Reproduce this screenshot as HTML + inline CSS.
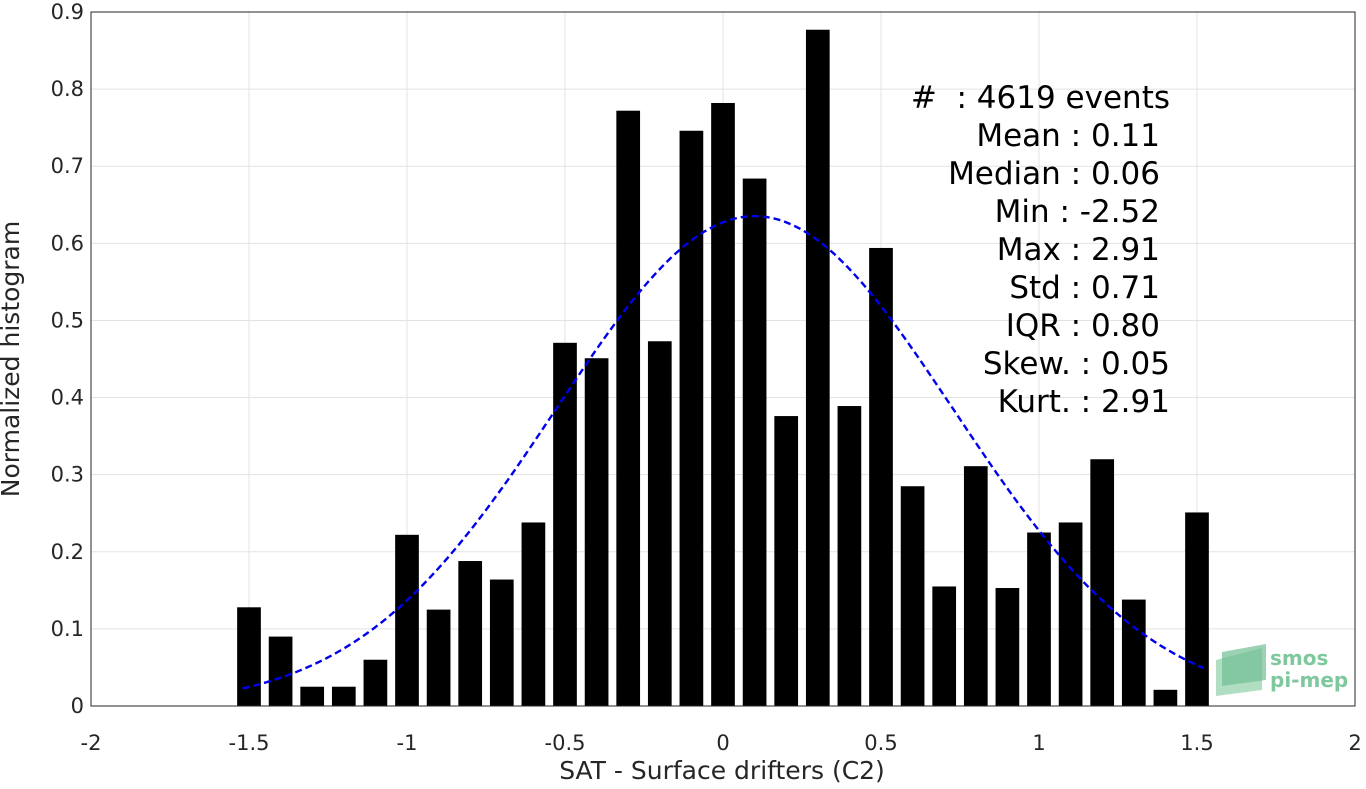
<!DOCTYPE html>
<html><head><meta charset="utf-8"><style>
body{margin:0;background:#fff;font-family:"Liberation Sans","DejaVu Sans",sans-serif}
svg text{font-family:"DejaVu Sans","Liberation Sans",sans-serif}
</style></head><body>
<svg id="chart" width="1366" height="784" xmlns="http://www.w3.org/2000/svg">
<g id="grid"></g>
<g id="bars"></g>
<path id="fit" fill="none" stroke="#0000ee" stroke-width="2.4" stroke-dasharray="7,4"/>
<rect x="91" y="12" width="1264" height="694" fill="none" stroke="#262626" stroke-width="1"/>
<g id="ticks" font-size="21" fill="#262626"></g>
<text x="722" y="779" font-size="25" text-anchor="middle" fill="#262626">SAT - Surface drifters (C2)</text>
<text transform="translate(19,359) rotate(-90)" font-size="25" text-anchor="middle" fill="#262626">Normalized histogram</text>
<g font-size="31" fill="#000" text-anchor="end">
<text x="1170" y="108" xml:space="preserve">#  : 4619 events</text>
<text x="1160" y="146">Mean : 0.11</text>
<text x="1160" y="184">Median : 0.06</text>
<text x="1160" y="222">Min : -2.52</text>
<text x="1160" y="260">Max : 2.91</text>
<text x="1160" y="298">Std : 0.71</text>
<text x="1160" y="336">IQR : 0.80</text>
<text x="1170" y="374">Skew. : 0.05</text>
<text x="1170" y="412">Kurt. : 2.91</text>
</g>
<g>
<polygon points="1216,660 1262,648 1262,690 1216,696" fill="#9ed6b4" opacity="0.8"/>
<polygon points="1222,652 1266,644 1266,680 1222,686" fill="#6fbf93" opacity="0.7"/>
<text x="1270" y="665" font-size="20" fill="#7fc79c" font-weight="bold">smos</text>
<text x="1270" y="687" font-size="20" fill="#7fc79c" font-weight="bold">pi-mep</text>
</g>
</svg>
<script>
const binCenters=[-1.5,-1.4,-1.3,-1.2,-1.1,-1.0,-0.9,-0.8,-0.7,-0.6,-0.5,-0.4,-0.3,-0.2,-0.1,0.0,0.1,0.2,0.3,0.4,0.5,0.6,0.7,0.8,0.9,1.0,1.1,1.2,1.3,1.4,1.5];
const binValues=[0.128,0.09,0.025,0.025,0.06,0.222,0.125,0.188,0.164,0.238,0.471,0.451,0.772,0.473,0.746,0.782,0.684,0.376,0.877,0.389,0.594,0.285,0.155,0.311,0.153,0.225,0.238,0.32,0.138,0.021,0.251];
const xTicks=[-2,-1.5,-1,-0.5,0,0.5,1,1.5,2];
const xTickLabels=["-2","-1.5","-1","-0.5","0","0.5","1","1.5","2"];
const yTicks=[0,0.1,0.2,0.3,0.4,0.5,0.6,0.7,0.8,0.9];
const yTickLabels=["0","0.1","0.2","0.3","0.4","0.5","0.6","0.7","0.8","0.9"];
const fitMean=[0.1];
const fitStd=[0.628];
const fitRange=[-1.52,1.52];
const NS="http://www.w3.org/2000/svg";
const X=v=>91+(v+2)/4*1264;
const Y=v=>706-v/0.9*694;
const grid=document.getElementById('grid'),ticks=document.getElementById('ticks'),bars=document.getElementById('bars');
function mk(tag,attrs,parent){const e=document.createElementNS(NS,tag);for(const k in attrs)e.setAttribute(k,attrs[k]);parent.appendChild(e);return e;}
xTicks.forEach((t,i)=>{
  const g=mk('line',{x1:X(t),x2:X(t),y1:12,y2:706,stroke:'#e3e3e3'},grid);
  
  
  const tx=mk('text',{x:X(t),y:750,'text-anchor':'middle'},ticks);tx.textContent=xTickLabels[i];
  
  
});
yTicks.forEach((t,i)=>{
  const g=mk('line',{x1:91,x2:1355,y1:Y(t),y2:Y(t),stroke:'#e3e3e3'},grid);
  
  
  const tx=mk('text',{x:84,y:Y(t)+7,'text-anchor':'end'},ticks);tx.textContent=yTickLabels[i];
  
  
});
const bw=0.075;
binCenters.forEach((c,i)=>{
  const r=mk('rect',{x:X(c-bw/2),y:Y(binValues[i]),width:X(c+bw/2)-X(c-bw/2),height:Y(0)-Y(binValues[i]),fill:'#000'},bars);
  
  
});
let d='';const mu=fitMean[0],s=fitStd[0];
for(let i=0;i<=200;i++){const x=fitRange[0]+(fitRange[1]-fitRange[0])*i/200;
  const y=Math.exp(-((x-mu)**2)/(2*s*s))/(s*Math.sqrt(2*Math.PI));
  d+=(i?'L':'M')+X(x).toFixed(1)+','+Y(y).toFixed(1);}
document.getElementById('fit').setAttribute('d',d);
</script>
</body></html>
